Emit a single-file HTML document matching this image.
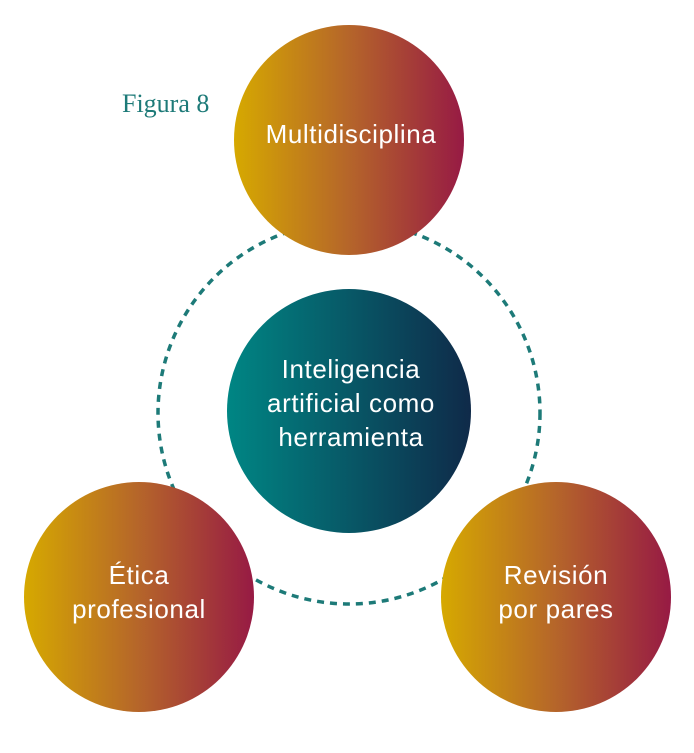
<!DOCTYPE html>
<html><head><meta charset="utf-8"><style>
body{margin:0;background:#fff;width:694px;height:748px;overflow:hidden}
</style></head><body>
<svg width="694" height="748" viewBox="0 0 694 748" xmlns="http://www.w3.org/2000/svg">
<defs>
<linearGradient id="g" x1="0" y1="0" x2="1" y2="0">
<stop offset="0" stop-color="#d6a900"/><stop offset="0.5" stop-color="#b5652a"/><stop offset="1" stop-color="#971a44"/>
</linearGradient>
<linearGradient id="t" x1="0" y1="0" x2="1" y2="0">
<stop offset="0" stop-color="#008684"/><stop offset="1" stop-color="#0f2a49"/>
</linearGradient>
</defs>
<circle cx="349" cy="413" r="191" fill="none" stroke="#1d7a78" stroke-width="3.5" stroke-dasharray="7 6"/>
<circle cx="349" cy="411" r="122" fill="url(#t)"/>
<circle cx="349" cy="140" r="115" fill="url(#g)"/>
<circle cx="139" cy="597" r="115" fill="url(#g)"/>
<circle cx="556" cy="597" r="115" fill="url(#g)"/>
<g font-family="Liberation Sans, sans-serif" fill="#fff" font-size="26" text-anchor="middle" letter-spacing="0.6">
<text x="351" y="143">Multidisciplina</text>
<text x="351" y="378">Inteligencia</text>
<text x="351" y="412">artificial como</text>
<text x="351" y="446">herramienta</text>
<text x="139" y="584">Ética</text>
<text x="139" y="618">profesional</text>
<text x="556" y="584">Revisión</text>
<text x="556" y="618">por pares</text>
</g>
<text x="122" y="112" font-family="Liberation Serif, serif" font-size="26" fill="#1d7a78">Figura 8</text>
</svg>
</body></html>
